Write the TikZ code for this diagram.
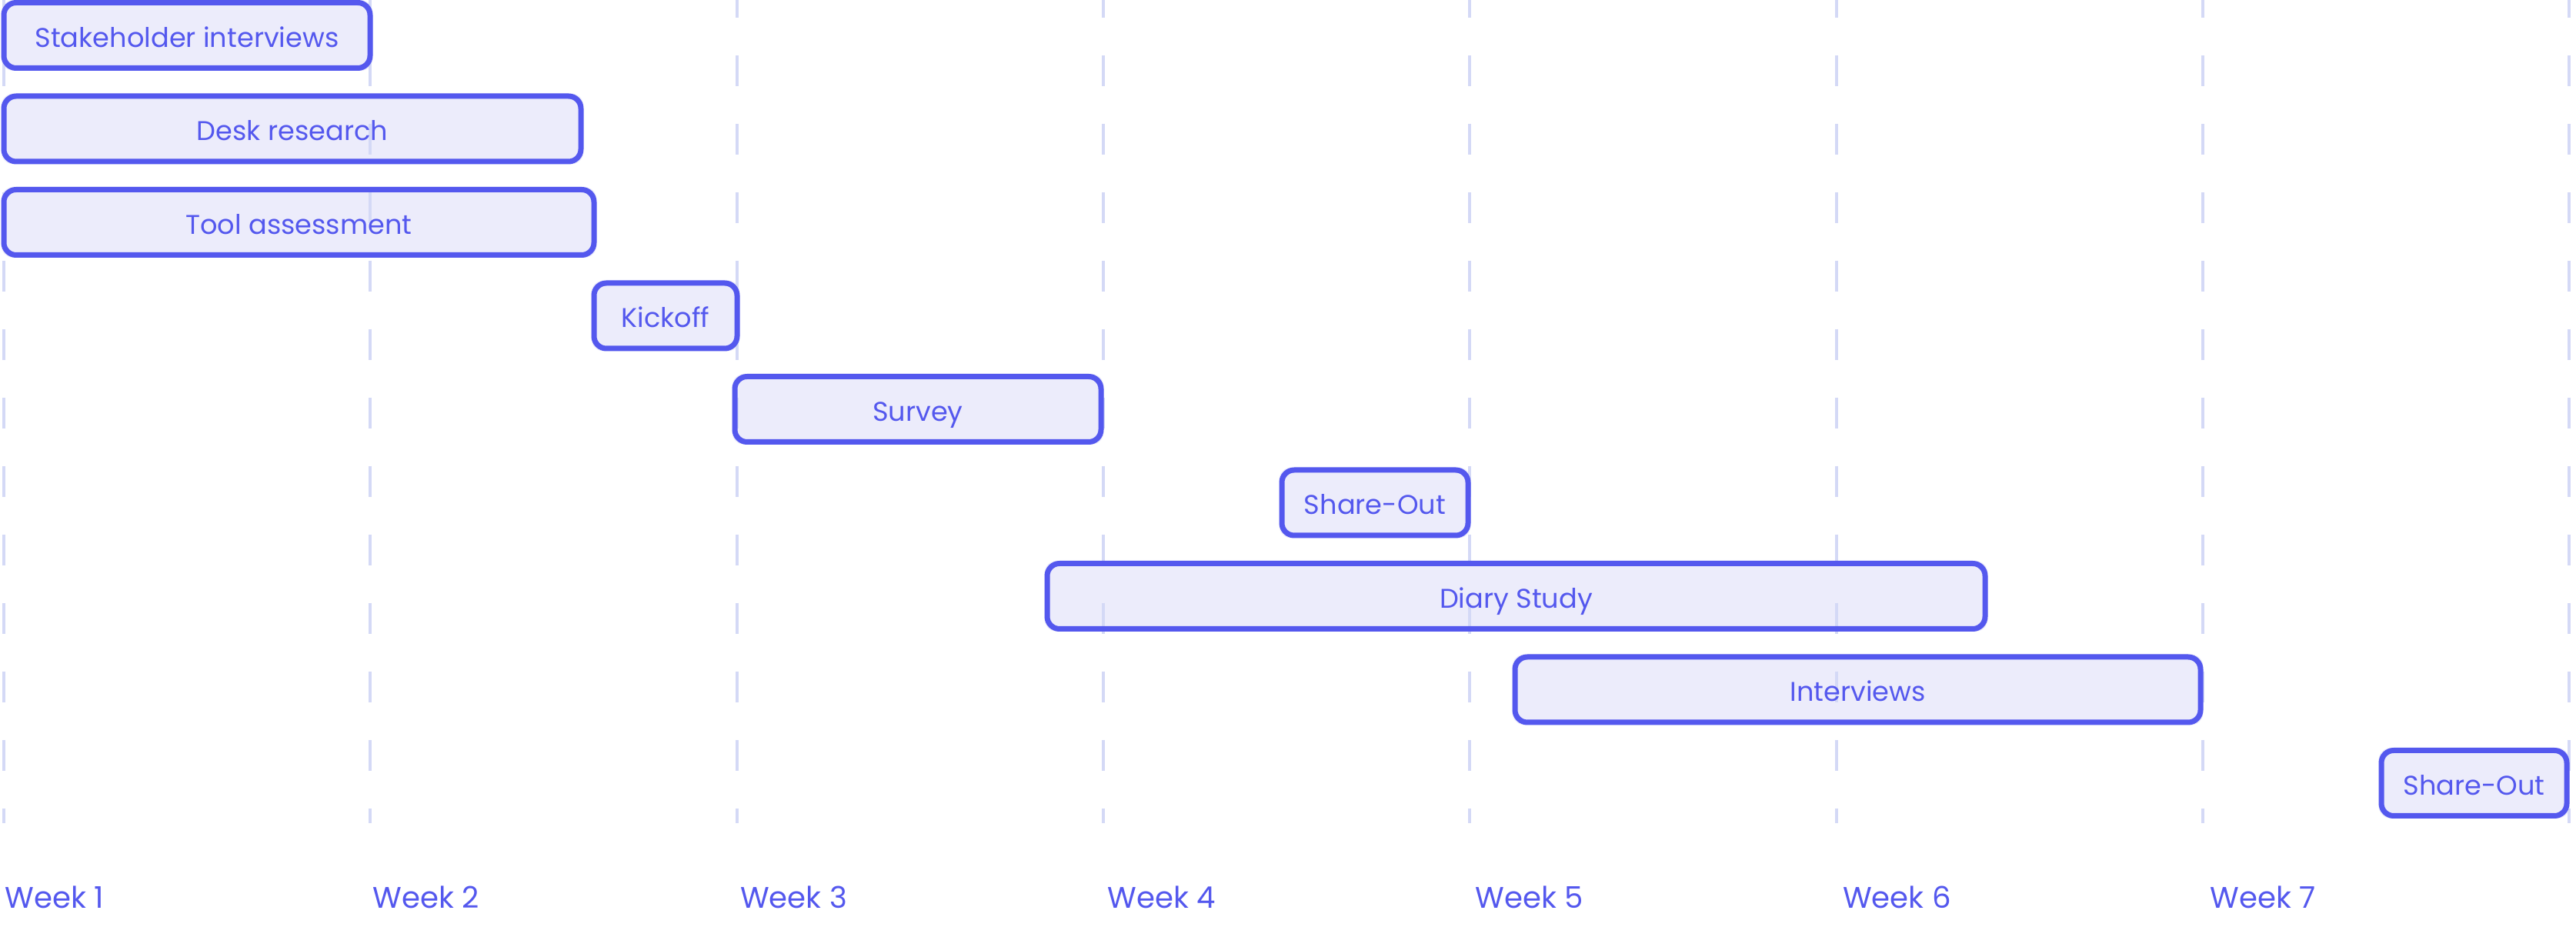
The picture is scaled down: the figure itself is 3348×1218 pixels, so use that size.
\documentclass[tikz,border=0pt]{standalone}
\usepackage{fontspec}
\setmainfont{Poppins}
\definecolor{barline}{RGB}{84,88,238}
\definecolor{barfill}{RGB}{236,236,251}
\definecolor{gridline}{RGB}{212,217,246}
\pgfdeclarelayer{fills}
\pgfdeclarelayer{grid}
\pgfsetlayers{fills,grid,main}

\begin{document}
\begin{tikzpicture}[x=0.1mm,y=-0.1mm,
    bar/.style={draw=barline,line width=0.7mm,rectangle,rounded corners=1.6mm,minimum height=8.5mm,inner sep=0pt,
        text=barline,text height=8.7pt,text depth=0pt,font=\fontsize{10}{12}\selectfont},
    week/.style={anchor=base west,inner sep=0pt,text=barline,font=\fontsize{11}{13}\selectfont},
    tick/.style={draw=gridline,line width=0.4mm,dash pattern=on 4mm off 4.9mm,dash phase=1.7mm},
]
    \useasboundingbox (0,0) rectangle (3348,1218);

    \node[bar,minimum width=47.6mm] (stake) at (243,46) {Stakeholder interviews};
    \node[bar,minimum width=75mm] (desk) at (380,167.5) {Desk research};
    \node[bar,minimum width=76.7mm] (tool) at (388.5,289) {Tool assessment};
    \node[bar,minimum width=18.6mm] (kickoff) at (865,410.5) {Kickoff};
    \node[bar,minimum width=47.6mm] (survey) at (1193,532) {Survey};
    \node[bar,minimum width=24.2mm] (shareA) at (1787,653.5) {Share-Out};
    \node[bar,minimum width=121.9mm] (diary) at (1970.5,775) {Diary Study};
    \node[bar,minimum width=89.1mm] (interviews) at (2414.5,896.5) {Interviews};
    \node[bar,minimum width=24.1mm] (shareB) at (3215.5,1018) {Share-Out};

    \foreach \k in {1,...,7}
        \node[week] (week\k) at ({6+477.7*(\k-1)},1180) {Week \k};

    \begin{pgfonlayer}{grid}
        \foreach \k in {0,...,7}
            \draw[tick] ({5+476.3*\k},0) -- ({5+476.3*\k},1070);
    \end{pgfonlayer}

    \begin{pgfonlayer}{fills}
        \foreach \n in {stake,desk,tool,kickoff,survey,shareA,diary,interviews,shareB}
            \fill[barfill,rounded corners=1.6mm] (\n.south west) rectangle (\n.north east);
    \end{pgfonlayer}

\end{tikzpicture}
\end{document}
